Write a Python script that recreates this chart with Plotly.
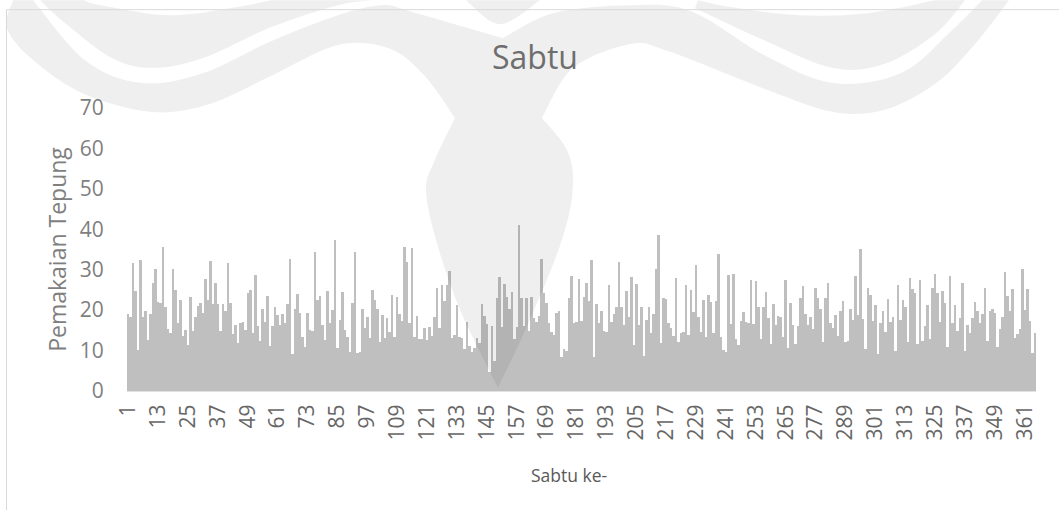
import plotly.graph_objects as go

TITLE = "Sabtu"
X_TITLE = "Sabtu ke-"
Y_TITLE = "Pemakaian Tepung"
Y_TICKS = [0, 10, 20, 30, 40, 50, 60, 70]
X_TICKS = list(range(1, 366, 12))

values_a = [
    19.0, 18.4, 31.7, 24.7, 10.1, 32.4, 18.4, 19.7, 12.6, 19.0, 26.6, 30.3, 22.0, 21.8, 35.7, 20.9,
    15.4, 14.4, 30.3, 25.1, 16.7, 22.5, 13.6, 15.1, 11.3, 23.2, 14.9, 18.4, 21.0, 21.7, 19.2, 27.7,
    22.5, 32.2, 21.4, 26.6, 21.5, 14.8, 21.5, 19.9, 31.6, 21.7, 14.1, 16.3, 11.8, 16.7, 17.0, 15.1,
    24.2, 25.0, 14.3, 28.7, 16.1, 12.4, 20.4, 17.1, 23.5, 11.2, 16.2, 20.7, 18.7, 16.3, 19.0, 16.9,
    21.5, 32.7, 9.2, 20.2, 24.0, 19.2, 13.3, 10.8, 19.2, 15.1, 14.8, 34.5, 22.5, 23.5, 16.4, 12.6,
    24.8, 16.9, 20.0, 37.3, 10.6, 17.6, 24.6, 15.1, 13.4, 9.6, 21.8, 34.3,
]
values_b = [
    9.5, 9.7, 20.4, 15.7, 18.2, 13.0, 25.0, 22.5, 20.3, 12.0, 18.8, 13.2, 18.1, 14.7, 23.7, 13.4,
    23.2, 19.0, 17.4, 35.7, 32.0, 16.7, 35.4, 13.4, 18.6, 12.9, 12.8, 15.7, 12.5, 15.8, 13.6, 18.4,
    25.4, 15.5, 26.2, 22.3, 26.3, 29.6, 13.2, 13.8, 21.3, 13.3, 13.0, 10.4, 17.1, 11.1, 9.7, 10.7,
    13.0, 11.8, 21.5, 18.5, 16.6, 4.6, 16.1, 7.5, 23.0, 28.1, 15.9, 26.5, 23.2, 20.4, 24.4, 12.9,
    15.9, 41.1, 23.1, 16.1, 22.9, 14.9, 23.2, 18.0, 17.1, 18.5, 32.6, 24.2, 21.7, 16.7, 14.5, 13.8,
    19.4, 19.9, 8.5, 10.3, 9.8, 23.0, 28.5, 16.9, 17.1, 27.7,
]
values_c = [
    17.3, 23.3, 26.6, 22.3, 32.4, 8.3, 21.5, 16.7, 19.8, 14.9, 14.6, 26.1, 17.1, 19.0, 20.7, 31.8,
    20.7, 16.4, 24.8, 18.4, 28.2, 11.4, 26.5, 16.3, 20.9, 8.7, 17.6, 20.7, 14.4, 19.0, 30.1, 38.7,
    11.9, 23.0, 22.7, 16.7, 15.7, 13.6, 27.9, 12.0, 14.3, 14.5, 26.2, 13.9, 25.0, 19.5, 31.1, 18.2,
    14.7, 22.6, 13.4, 23.8, 22.0, 14.3, 22.3, 33.9, 13.4, 10.1, 9.7, 28.6, 16.6, 28.9, 12.8, 11.4,
    17.3, 19.5, 17.1, 16.7, 27.4, 16.6, 27.1, 20.7, 12.9, 20.7, 24.6, 18.0, 11.6, 21.5, 16.3, 18.5,
    18.4, 13.4, 27.5, 10.7, 21.7, 16.3, 11.6, 16.1, 23.0, 26.0, 19.0, 16.3, 18.2, 15.3, 25.4, 23.0,
]
values_d = [
    20.4, 12.2, 23.0, 26.6, 16.9, 15.7, 18.7, 13.6, 19.9, 22.3, 12.0, 12.4, 20.4, 17.6, 28.4, 18.7,
    35.1, 17.7, 10.3, 25.5, 23.7, 17.2, 21.3, 9.1, 16.9, 19.7, 14.6, 22.8, 17.1, 18.2, 9.8, 26.1,
    17.5, 22.6, 20.9, 12.0, 27.9, 25.3, 24.2, 11.7, 27.5, 12.3, 16.1, 21.2, 12.9, 25.5, 28.9, 24.2,
    17.1, 24.8, 21.7, 11.0, 28.5, 16.8, 21.3, 14.8, 18.0, 26.7, 9.8, 16.4, 14.4, 18.0, 21.9, 19.9,
    16.7, 19.0, 25.5, 12.4, 19.8, 20.3, 19.4, 11.0, 15.3, 18.4, 29.4, 23.5, 19.8, 25.3, 13.1, 14.2,
    15.3, 30.3, 20.1, 25.2, 17.2, 9.3, 14.4,
]
values = values_a + values_b + values_c + values_d
days = list(range(1, len(values) + 1))

W, H = 1059, 511
L, R, T, B = 127, 1036, 108, 391.5


def px(x):
    return (x - L) / (R - L)


def py(y):
    return (B - y) / (B - T)


def path(runs):
    """Closed path through smooth runs; the joins between runs stay sharp corners."""
    out = []
    for k, run in enumerate(runs):
        if k == 0:
            out.append(f"M {px(run[0][0]):.4f},{py(run[0][1]):.4f}")
        else:
            out.append(f"L {px(run[0][0]):.4f},{py(run[0][1]):.4f}")
        for i in range(len(run) - 1):
            p0 = run[max(i - 1, 0)]
            p1 = run[i]
            p2 = run[i + 1]
            p3 = run[min(i + 2, len(run) - 1)]
            c1 = (p1[0] + (p2[0] - p0[0]) / 6, p1[1] + (p2[1] - p0[1]) / 6)
            c2 = (p2[0] - (p3[0] - p1[0]) / 6, p2[1] - (p3[1] - p1[1]) / 6)
            out.append(
                f"C {px(c1[0]):.4f},{py(c1[1]):.4f} {px(c2[0]):.4f},{py(c2[1]):.4f} {px(p2[0]):.4f},{py(p2[1]):.4f}"
            )
    out.append("Z")
    return " ".join(out)


# faint watermark over the page, traced in page pixels
mark_main = [
    [(13, 0), (7, 28), (33, 60), (84, 94), (152, 112), (210, 104), (271, 76), (338, 45), (388, 48),
     (423, 74), (455, 118)],
    [(455, 118), (434, 162), (426, 190), (436, 240), (460, 310), (498, 388)],
    [(498, 388), (530, 320), (562, 240), (573, 187), (567, 150), (542, 118)],
    [(542, 118), (573, 68), (630, 44), (668, 51), (770, 91), (833, 112), (884, 110), (935, 84),
     (975, 44), (1009, 0)],
    [(982, 0), (952, 30), (901, 73), (833, 83), (766, 56), (691, 11), (630, 5), (553, 13), (503, 38)],
    [(503, 38), (413, 12), (382, 5), (338, 15), (271, 41), (203, 73), (142, 83), (86, 61), (33, 0)],
]
mark_left = [
    [(40, 0), (64, 22), (112, 58), (152, 68), (203, 58), (271, 27), (338, 5), (372, 0)],
    [(271, 0), (236, 7), (169, 15), (101, 5), (84, 0)],
]
mark_right = [
    [(695, 8), (766, 41), (833, 68), (884, 64), (935, 34), (965, 0)],
    [(935, 0), (867, 13), (799, 15), (732, 7), (698, 0)],
]
mark_mid = [[(466, 0), (500, 24), (540, 0)]]

shapes = [
    dict(type="path", path=path(p), xref="paper", yref="paper", fillcolor="rgba(0,0,0,0.063)",
         line=dict(width=0), layer="above")
    for p in (mark_main, mark_left, mark_right, mark_mid)
]
# chart-frame edges
shapes += [
    dict(type="line", xref="paper", yref="paper", x0=px(6.5), x1=px(1059), y0=py(9.5), y1=py(9.5),
         line=dict(color="#D9D9D9", width=1)),
    dict(type="line", xref="paper", yref="paper", x0=px(6.5), x1=px(6.5), y0=py(9.5), y1=py(511),
         line=dict(color="#D9D9D9", width=1)),
]

FONT = "Open Sans"
fig = go.Figure(go.Bar(x=days, y=values, marker=dict(color="#BFBFBF", line=dict(width=0))))
fig.update_layout(
    width=W, height=H,
    margin=dict(l=L, r=W - R, t=T, b=H - B, pad=0),
    paper_bgcolor="white", plot_bgcolor="white",
    bargap=0, showlegend=False, shapes=shapes,
    font=dict(family=FONT),
    title=dict(text=TITLE, x=535 / W, xanchor="center", y=1 - 58 / H, yanchor="middle",
               font=dict(size=32, color="#6E6E6E", family=FONT)),
    annotations=[
        dict(text=X_TITLE, xref="paper", yref="paper", x=px(569), y=py(476), showarrow=False,
             xanchor="center", yanchor="middle", font=dict(size=17.5, color="#595959", family=FONT)),
    ],
)
fig.update_xaxes(
    range=[0.5, len(values) + 0.5], tickmode="array", tickvals=X_TICKS, ticktext=[str(t) for t in X_TICKS],
    tickangle=-90, tickfont=dict(size=21, color="#666666", family=FONT),
    ticks="outside", ticklen=4, tickcolor="rgba(0,0,0,0)", showgrid=False, zeroline=False,
    showline=True, linecolor="#E3E3E3", linewidth=1,
)
fig.update_yaxes(
    range=[0, 70], tickmode="array", tickvals=Y_TICKS,
    tickfont=dict(size=21, color="#7F7F7F", family=FONT),
    ticks="outside", ticklen=18, tickcolor="rgba(0,0,0,0)", showgrid=False, zeroline=False, showline=False,
    title=dict(text=Y_TITLE, font=dict(size=23, color="#7F7F7F", family=FONT), standoff=6),
)
fig.write_html("out.html", config={"displayModeBar": False},
               post_script="document.body.style.margin='0';")
